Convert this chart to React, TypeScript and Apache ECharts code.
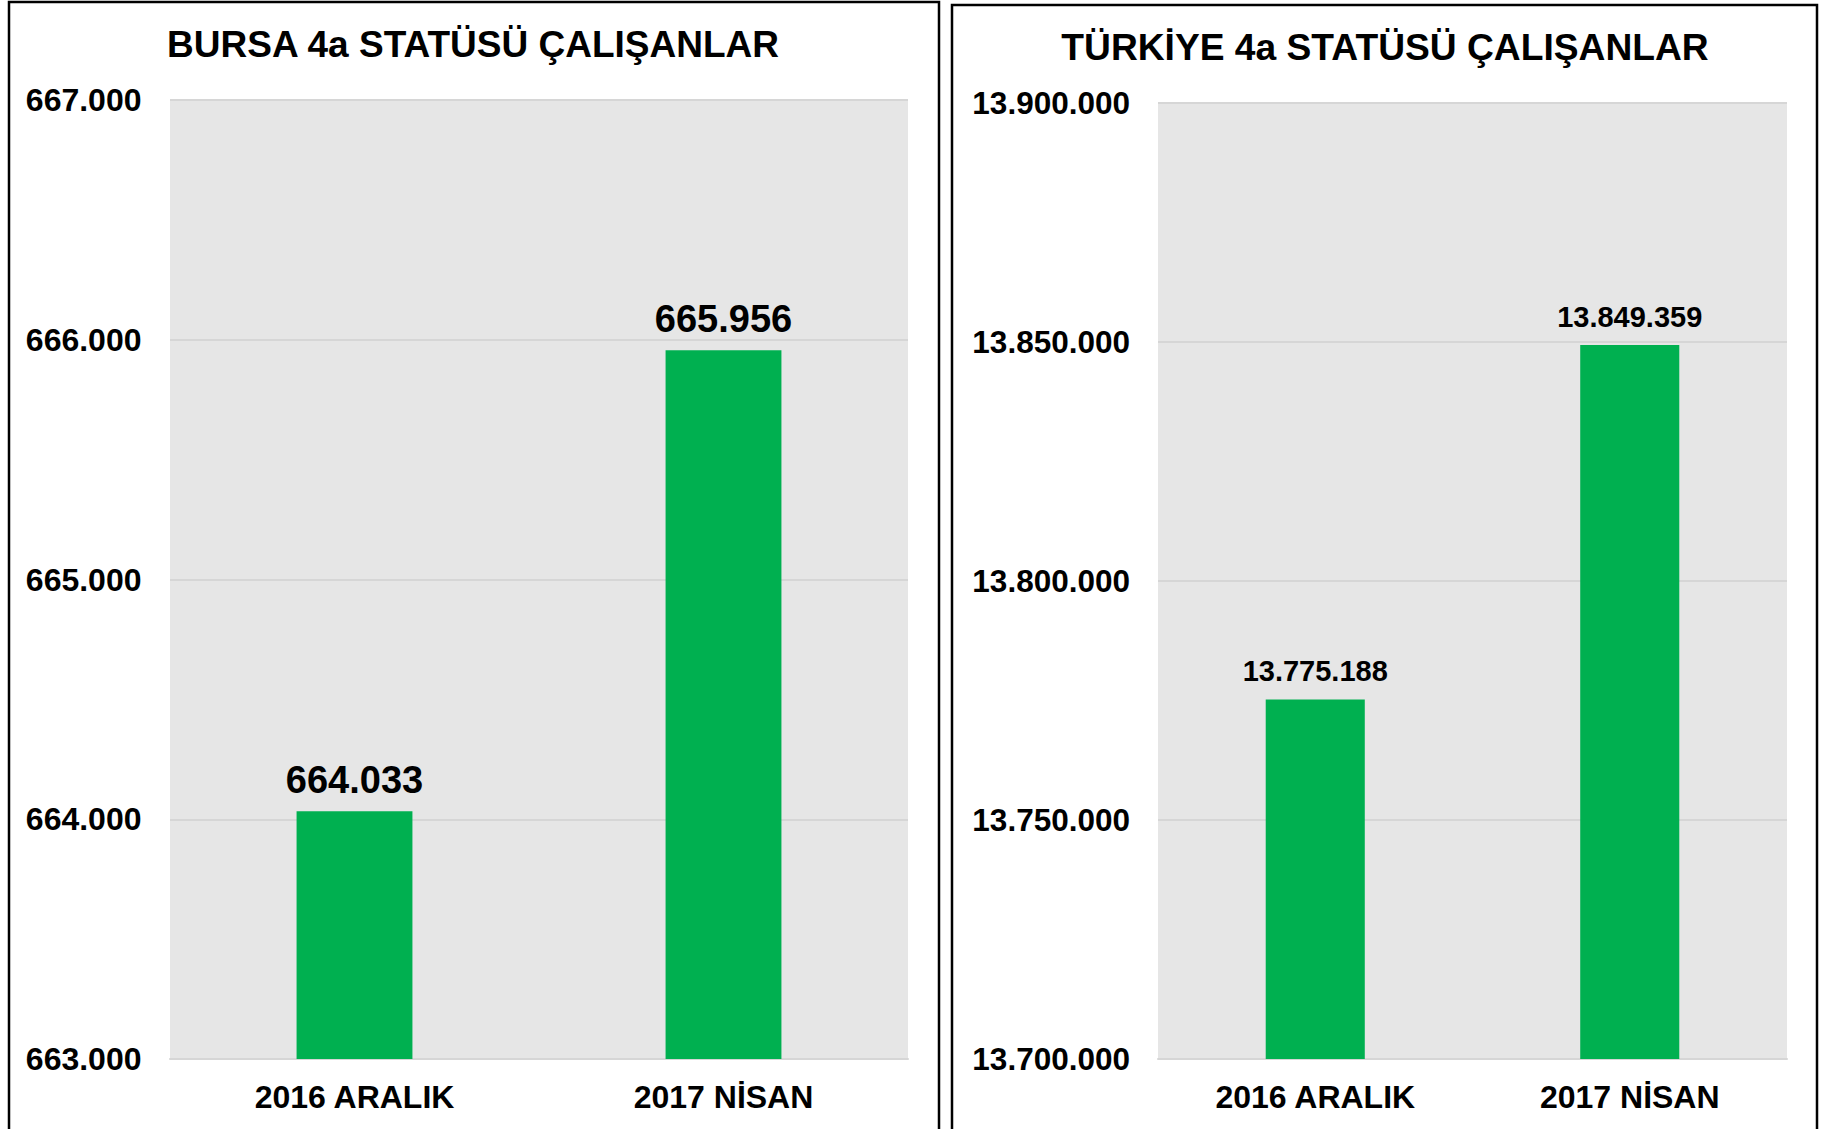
import React, { useEffect, useRef } from "react";
import * as echarts from "echarts";

const categories = ["2016 ARALIK", "2017 NİSAN"];
const bursaValues = [664033, 665956];
const turkiyeValues = [13775188, 13849359];
const bursaTitle = "BURSA 4a STATÜSÜ ÇALIŞANLAR";
const turkiyeTitle = "TÜRKİYE 4a STATÜSÜ ÇALIŞANLAR";
const bursaAxis = { min: 663000, max: 667000, interval: 1000 };
const turkiyeAxis = { min: 13700000, max: 13900000, interval: 50000 };

const FONT = "'Liberation Sans', Arial, Helvetica, sans-serif";
const GREEN = "#00b050";

function fmt(v: number): string {
  const s = Math.round(v).toString();
  return s.replace(/\B(?=(\d{3})+(?!\d))/g, ".");
}

export default function App() {
  const ref = useRef<HTMLDivElement>(null);
  useEffect(() => {
    if (!ref.current) return;
    const chart = echarts.init(ref.current, null, { renderer: "svg" });
    const yAxisCommon = (ax: any, gridIndex: number, fontSize: number, margin: number) => ({
      type: "value",
      gridIndex,
      min: ax.min,
      max: ax.max,
      interval: ax.interval,
      axisLine: { show: false },
      axisTick: { show: false },
      splitLine: { show: true, lineStyle: { color: "#d6d6d6", width: 2 } },
      axisLabel: {
        formatter: (v: number) => fmt(v),
        color: "#000",
        fontFamily: FONT,
        fontWeight: "bold",
        fontSize,
        margin,
      },
    });
    const xAxisCommon = (gridIndex: number) => ({
      type: "category",
      gridIndex,
      data: categories,
      axisLine: { show: true, lineStyle: { color: "#d6d6d6", width: 2 } },
      axisTick: { show: false },
      axisLabel: {
        color: "#000",
        fontFamily: FONT,
        fontWeight: "bold",
        fontSize: 32,
        margin: 22,
      },
    });
    chart.setOption({
      animation: false,
      backgroundColor: "#ffffff",
      grid: [
        {
          left: 170,
          right: 1824 - 908,
          top: 100,
          bottom: 1129 - 1059,
          show: true,
          backgroundColor: "#e6e6e6",
          borderWidth: 0,
        },
        {
          left: 1158,
          right: 1824 - 1787,
          top: 103,
          bottom: 1129 - 1059,
          show: true,
          backgroundColor: "#e6e6e6",
          borderWidth: 0,
        },
      ],
      xAxis: [xAxisCommon(0), xAxisCommon(1)],
      yAxis: [yAxisCommon(bursaAxis, 0, 32, 28.5), yAxisCommon(turkiyeAxis, 1, 31.5, 28)],
      series: [
        {
          type: "bar",
          xAxisIndex: 0,
          yAxisIndex: 0,
          data: bursaValues,
          barWidth: "31.4%",
          itemStyle: { color: GREEN },
          label: {
            show: true,
            position: "top",
            distance: 12,
            formatter: (p: any) => fmt(p.value),
            color: "#000",
            fontFamily: FONT,
            fontWeight: "bold",
            fontSize: 38,
          },
        },
        {
          type: "bar",
          xAxisIndex: 1,
          yAxisIndex: 1,
          data: turkiyeValues,
          barWidth: "31.5%",
          itemStyle: { color: GREEN },
          label: {
            show: true,
            position: "top",
            distance: 14,
            formatter: (p: any) => fmt(p.value),
            color: "#000",
            fontFamily: FONT,
            fontWeight: "bold",
            fontSize: 29,
          },
        },
      ],
      graphic: [
        {
          type: "rect",
          shape: { x: 9, y: 2, width: 930, height: 1160 },
          style: { fill: "none", stroke: "#000", lineWidth: 2.5 },
          silent: true,
        },
        {
          type: "rect",
          shape: { x: 952, y: 5, width: 865, height: 1160 },
          style: { fill: "none", stroke: "#000", lineWidth: 2.5 },
          silent: true,
        },
        {
          type: "text",
          x: 473,
          y: 44,
          style: {
            text: bursaTitle,
            fill: "#000",
            fontFamily: FONT,
            fontWeight: "bold",
            fontSize: 37,
            textAlign: "center",
            textVerticalAlign: "middle",
          },
        },
        {
          type: "text",
          x: 1385,
          y: 47,
          style: {
            text: turkiyeTitle,
            fill: "#000",
            fontFamily: FONT,
            fontWeight: "bold",
            fontSize: 37.2,
            textAlign: "center",
            textVerticalAlign: "middle",
          },
        },
      ],
    });
    return () => chart.dispose();
  }, []);
  return (
    <div
      ref={ref}
      style={{ position: "fixed", left: 0, top: 0, width: 1824, height: 1129 }}
    />
  );
}
